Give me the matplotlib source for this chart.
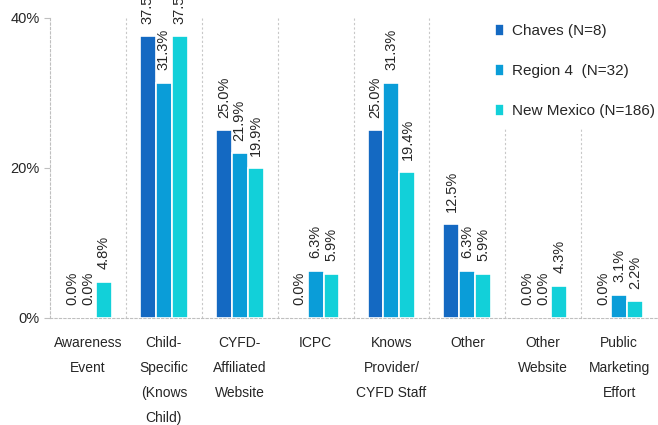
import numpy as np
import matplotlib
matplotlib.use("Agg")
import matplotlib.pyplot as plt
from matplotlib.ticker import FixedLocator

plt.rcParams['font.family'] = ['Liberation Sans', 'DejaVu Sans']

categories = ["Awareness\nEvent", "Child-\nSpecific\n(Knows\nChild)", "CYFD-\nAffiliated\nWebsite",
              "ICPC", "Knows\nProvider/\nCYFD Staff", "Other", "Other\nWebsite",
              "Public\nMarketing\nEffort"]
series_names = ["Chaves (N=8)", "Region 4  (N=32)", "New Mexico (N=186)"]
chaves = [0.0, 37.5, 25.0, 0.0, 25.0, 12.5, 0.0, 0.0]
region4 = [0.0, 31.3, 21.9, 6.3, 31.3, 6.3, 0.0, 3.1]
new_mexico = [4.8, 37.5, 19.9, 5.9, 19.4, 5.9, 4.3, 2.2]
colors = ["#1469C2", "#0A9DD8", "#12D0D9"]

fig = plt.figure(figsize=(6.58, 4.25), dpi=100)
ax = fig.add_axes([0.076, 0.2518, 0.9225, 0.707])

x = np.arange(len(categories))
w = 0.21
for i, (vals, name, c) in enumerate(zip([chaves, region4, new_mexico], series_names, colors)):
    bars = ax.bar(x + (i - 1) * w, vals, w, color=c, edgecolor='white', linewidth=1.2,
                  label=name, zorder=3)
    for b, v in zip(bars, vals):
        ax.annotate(f"{v:.1f}%", (b.get_x() + b.get_width() / 2, v),
                    xytext=(0, 9), textcoords='offset points', rotation=90,
                    ha='center', va='bottom', fontsize=10.5, color='#262626',
                    annotation_clip=False)

ax.set_xlim(-0.5, len(categories) - 0.5)
ax.set_ylim(0, 40)
ax.set_yticks([0, 20, 40])
ax.set_yticklabels(["0%", "20%", "40%"])
ax.set_xticks(x)
ax.set_xticklabels(categories, fontsize=10, linespacing=2.0, color='#262626')
ax.xaxis.set_minor_locator(FixedLocator(np.arange(0.5, len(categories) - 0.5, 1)))
ax.tick_params(axis='x', which='both', length=0, pad=13)
ax.tick_params(axis='y', length=4, color='#bfbfbf', labelsize=10.5, labelcolor='#262626')
ax.grid(axis='x', which='minor', color='#c8c8c8', linestyle=(0, (2, 2)), linewidth=0.8, zorder=0)

for s in ['top', 'right']:
    ax.spines[s].set_visible(False)
for s in ['left', 'bottom']:
    ax.spines[s].set_color('#bfbfbf')
    ax.spines[s].set_linestyle((0, (2, 2)))
    ax.spines[s].set_linewidth(0.8)

leg = ax.legend(loc='upper left', bbox_to_anchor=(0.738, 0.945, 0.27, 0.02),
                bbox_transform=fig.transFigure, frameon=True, fontsize=11,
                handlelength=0.6, handleheight=0.8, handletextpad=0.5,
                labelspacing=1.7, borderaxespad=0, borderpad=0.6)
leg.get_frame().set_edgecolor('white')
leg.get_frame().set_facecolor('white')
leg.get_frame().set_alpha(1)
leg.set_zorder(5)
for t in leg.get_texts():
    t.set_color('#262626')

fig.savefig("out.png", dpi=100)
